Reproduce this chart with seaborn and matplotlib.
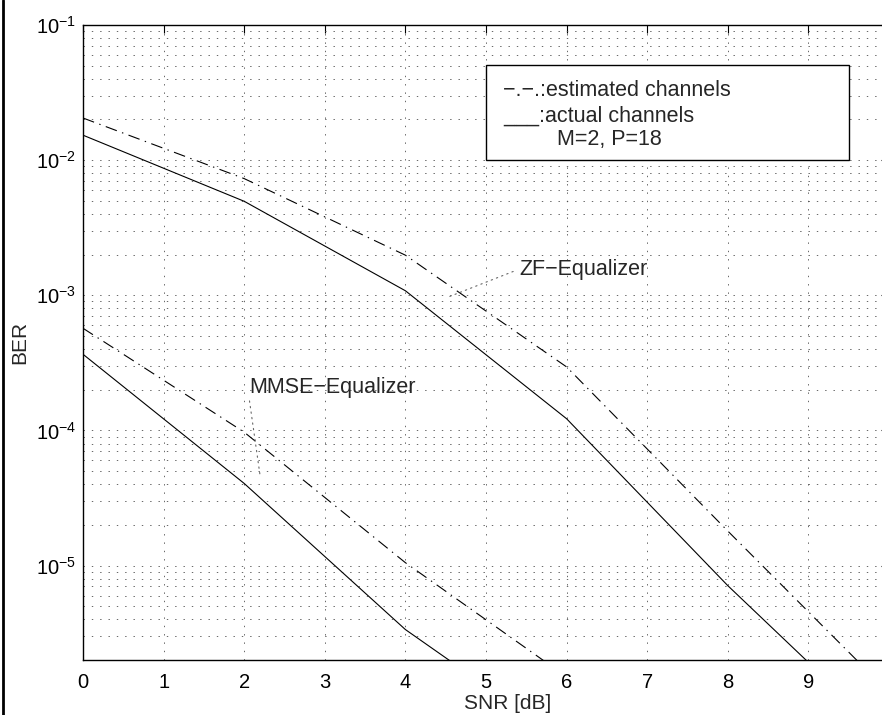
"""BER vs SNR for ZF and MMSE equalizers, actual vs estimated channels."""
import matplotlib
matplotlib.use("Agg")
import matplotlib.pyplot as plt
import numpy as np
import pandas as pd
import seaborn as sns
from matplotlib.lines import Line2D
from matplotlib.patches import Rectangle
from matplotlib.ticker import LogLocator, FixedLocator

# --- data ---
snr_zf = [0, 2, 4, 6, 8, 10]
ber_zf_actual = [1.53e-2, 4.96e-3, 1.08e-3, 1.22e-4, 7.1e-6, 5.2e-7]
ber_zf_est = [2.05e-2, 7.3e-3, 1.98e-3, 2.95e-4, 1.8e-5, 1.15e-6]

snr_mmse = [0, 2, 4, 6]
ber_mmse_actual = [3.66e-4, 4.05e-5, 3.36e-6, 4.9e-7]
ber_mmse_est = [5.7e-4, 9.7e-5, 1.05e-5, 1.5e-6]

xticks = list(range(10))

sns.set_theme(style="white")
plt.rcParams["font.family"] = ["Liberation Sans", "DejaVu Sans"]
plt.rcParams["mathtext.fontset"] = "custom"
plt.rcParams["mathtext.rm"] = "Liberation Sans"
plt.rcParams["mathtext.it"] = "Liberation Sans:italic"
plt.rcParams["mathtext.bf"] = "Liberation Sans:bold"
plt.rcParams["lines.scale_dashes"] = False

frames = []
for name, snr, act, est in [("ZF", snr_zf, ber_zf_actual, ber_zf_est),
                            ("MMSE", snr_mmse, ber_mmse_actual, ber_mmse_est)]:
    frames.append(pd.DataFrame({"snr": snr, "ber": act, "eq": name, "chan": "actual"}))
    frames.append(pd.DataFrame({"snr": snr, "ber": est, "eq": name, "chan": "estimated"}))
df = pd.concat(frames, ignore_index=True)

fig = plt.figure(figsize=(8.82, 7.15), dpi=100)
# axes runs slightly past the right edge, as in the cropped original
ax = fig.add_axes([83 / 882, 1 - 660 / 715, 806 / 882, 635 / 715])

sns.lineplot(data=df, x="snr", y="ber", units="eq", style="chan",
             estimator=None, color="black", linewidth=0.8, legend=False,
             dashes={"actual": "", "estimated": (8.5, 4, 1, 4)}, ax=ax)

ax.set_yscale("log")
ax.set_xlim(0, 10)
ax.set_ylim(2e-6, 1e-1)
ax.xaxis.set_major_locator(FixedLocator(xticks))
ax.yaxis.set_major_locator(LogLocator(base=10))
ax.yaxis.set_minor_locator(LogLocator(base=10, subs=np.arange(2, 10)))

grid_kw = dict(color="0.3", linestyle=(0, (1, 5)), linewidth=0.6)
ax.grid(True, which="major", axis="both", **grid_kw)
ax.grid(True, which="minor", axis="y", **grid_kw)

ax.tick_params(which="both", direction="in", top=True, right=True,
               labelsize=14.5, colors="black")
ax.tick_params(which="major", length=6, width=0.8)
ax.tick_params(which="minor", length=3, width=0.6)
ax.tick_params(axis="x", pad=9)
ax.tick_params(axis="y", pad=5)
for s in ax.spines.values():
    s.set_color("black")
    s.set_linewidth(1.0)

ax.set_xlabel("SNR [dB]", fontsize=15)
ax.set_ylabel("BER", fontsize=15)
ax.xaxis.set_label_coords(0.527, -0.053)
ax.yaxis.set_label_coords(-0.067, 0.5)

# curve labels with dotted pointers
ax.annotate("ZF\u2212Equalizer", xy=(4.53, 9.7e-4), xytext=(5.41, 1.56e-3),
            fontsize=15.5, va="center", ha="left",
            arrowprops=dict(arrowstyle="-", linestyle=(0, (1, 3)), color="0.4",
                            lw=0.8, shrinkA=2, shrinkB=0, relpos=(0, 0.5)))
ax.annotate("MMSE\u2212Equalizer", xy=(2.2, 4.5e-5), xytext=(2.06, 2.09e-4),
            fontsize=15.5, va="center", ha="left",
            arrowprops=dict(arrowstyle="-", linestyle=(0, (1, 3)), color="0.4",
                            lw=0.8, shrinkA=0, shrinkB=0, relpos=(0, 0)))

# legend box drawn as text, like the original
ax.add_patch(Rectangle((0.5, 0.787), 0.45, 0.150, transform=ax.transAxes,
                       facecolor="white", edgecolor="black", linewidth=1.0, zorder=3))
ax.text(0.521, 0.897, "\u2212.\u2212.:estimated channels", transform=ax.transAxes,
        fontsize=15.5, va="center", ha="left", zorder=4)
ax.text(0.521, 0.857, "___:actual channels", transform=ax.transAxes,
        fontsize=15.5, va="center", ha="left", zorder=4)
ax.text(0.588, 0.819, "M=2, P=18", transform=ax.transAxes,
        fontsize=15.5, va="center", ha="left", zorder=4)

# thick frame edge at the far left of the original image
fig.add_artist(Line2D([3 / 882, 3 / 882], [0, 1], transform=fig.transFigure,
                      color="black", linewidth=2.0))

fig.savefig("out.png", dpi=100)
plt.close(fig)
